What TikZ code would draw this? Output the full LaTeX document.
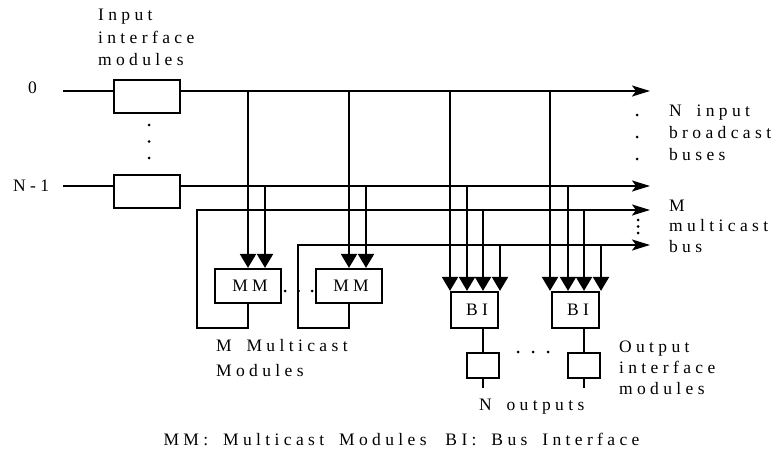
\documentclass[tikz,border=0pt]{standalone}
\usepackage{fontspec}
\setmainfont{Liberation Serif}[LetterSpace=25, WordSpace=1.7]
\usetikzlibrary{arrows.meta}
\begin{document}
\begin{tikzpicture}[x=1pt,y=-1pt, line width=2.2pt,
  every node/.style={font=\fontsize{17.5}{21}\selectfont, inner sep=0pt},
  box/.style={draw, fill=white, line width=2.2pt, inner sep=0pt},
  txt/.style={anchor=base west},
  dn/.style={-{Triangle[length=14pt,width=16pt]}},
  rt/.style={-{Stealth[length=18pt,width=11pt,inset=4pt]}},
  dotm/.style={circle, fill, minimum size=3pt, inner sep=0pt}]
\useasboundingbox (0,0) rectangle (776,452);

% bus end points
\coordinate (s0) at (63,91);  \coordinate (e0) at (650,91);
\coordinate (sN) at (63,186); \coordinate (eN) at (650,186);
\coordinate (em1) at (650,210); \coordinate (em2) at (650,245);
\coordinate (fb1) at (197,328); \coordinate (fb2) at (298,328);

% boxes
\node[box, minimum width=66pt, minimum height=33pt] (in0) at (147,96.5) {};
\node[box, minimum width=66pt, minimum height=33pt] (inN) at (147,191.5) {};
\node[box, minimum width=66pt, minimum height=34pt] (mm1) at (248,286) {\kern4pt MM};
\node[box, minimum width=66pt, minimum height=34pt] (mm2) at (349,286) {\kern4pt MM};
\node[box, minimum width=47pt, minimum height=36pt] (bi1) at (474.5,310) {\kern5pt BI};
\node[box, minimum width=47pt, minimum height=36pt] (bi2) at (575.5,310) {\kern5pt BI};
\node[box, minimum width=32pt, minimum height=25pt] (oi1) at (483,365.5) {};
\node[box, minimum width=32pt, minimum height=25pt] (oi2) at (584,365.5) {};

% input broadcast buses
\draw (s0) -- (s0 -| in0.west);
\draw[rt] (s0 -| in0.east) -- (e0);
\draw (sN) -- (sN -| inN.west);
\draw[rt] (sN -| inN.east) -- (eN);

% multicast buses (fed back from MM outputs)
\draw[rt] (mm1.south) |- (fb1) |- (em1);
\draw[rt] (mm2.south) |- (fb2) |- (em2);

% taps to MM
\coordinate (a1) at (248,91);  \coordinate (a2) at (265,186);
\coordinate (a3) at (349,91);  \coordinate (a4) at (366,186);
\draw[dn] (a1) -- (a1 |- mm1.north);
\draw[dn] (a2) -- (a2 |- mm1.north);
\draw[dn] (a3) -- (a3 |- mm2.north);
\draw[dn] (a4) -- (a4 |- mm2.north);

% taps to BI
\coordinate (b1) at (450,91);  \coordinate (b2) at (467,186);
\coordinate (b3) at (483,210); \coordinate (b4) at (500,245);
\coordinate (c1) at (550,91);  \coordinate (c2) at (568,186);
\coordinate (c3) at (584,210); \coordinate (c4) at (601,245);
\foreach \p in {b1,b2,b3,b4} \draw[dn] (\p) -- (\p |- bi1.north);
\foreach \p in {c1,c2,c3,c4} \draw[dn] (\p) -- (\p |- bi2.north);

% BI to output interface modules
\coordinate (o1) at (483,388); \coordinate (o2) at (584,388);
\draw (bi1.south -| oi1.north) -- (oi1.north);
\draw (bi2.south -| oi2.north) -- (oi2.north);
\draw (oi1.south) -- (o1);
\draw (oi2.south) -- (o2);

% dots
\node[dotm] (d1) at (149,125) {};
\node[dotm] (d2) at (149,141.5) {};
\node[dotm] (d3) at (149,158) {};
\node[dotm] (d4) at (285,291) {};
\node[dotm] (d5) at (298.5,291) {};
\node[dotm] (d6) at (312,291) {};
\node[dotm] (d7) at (518,352) {};
\node[dotm] (d8) at (533,352) {};
\node[dotm] (d9) at (548,352) {};
\node[dotm] (d10) at (637,115) {};
\node[dotm] (d11) at (637,137) {};
\node[dotm] (d12) at (637,159) {};
\node[dotm] (d13) at (638,220) {};
\node[dotm] (d14) at (638,226.5) {};
\node[dotm] (d15) at (638,233) {};

% texts
\node[txt] (inp1) at (97,21) {Input};
\node[txt] (inp2) at (97,43.5) {interface};
\node[txt] (inp3) at (97,66) {modules};
\node[txt] (lab0) at (27,93) {0};
\node[txt] (labN) at (12,191) {N-1};
\node[txt] (ni1) at (668,116) {N input};
\node[txt] (ni2) at (668,138) {broadcast};
\node[txt] (ni3) at (668,160) {buses};
\node[txt] (mb1) at (668,211) {M};
\node[txt] (mb2) at (668,231) {multicast};
\node[txt] (mb3) at (668,252) {bus};
\node[txt] (mmt1) at (215,351) {M Multicast};
\node[txt] (mmt2) at (215,376) {Modules};
\node[txt] (out1) at (618,352) {Output};
\node[txt] (out2) at (618,373) {interface};
\node[txt] (out3) at (618,394) {modules};
\node[txt] (nout) at (478,410) {N outputs};
\node[anchor=base] (cap) at (401.5,445) {MM: Multicast Modules\kern4pt{} BI: Bus Interface};
\end{tikzpicture}
\end{document}
